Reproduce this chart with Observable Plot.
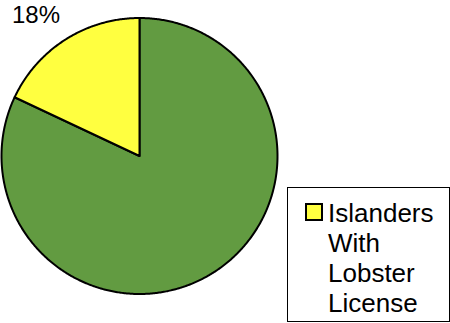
<!DOCTYPE html>
<html>
<head>
<meta charset="utf-8">
<script src="https://cdn.jsdelivr.net/npm/d3@7"></script>
<script src="https://cdn.jsdelivr.net/npm/@observablehq/plot@0.6"></script>
<style>
  html, body { margin: 0; padding: 0; background: #fff; }
  #wrap { position: relative; width: 450px; height: 323px; font-family: "Liberation Sans", Arial, sans-serif; }
  #legend { position: absolute; left: 287px; top: 187px; width: 161px; height: 133px; border: 1px solid #000; background: #fff; box-sizing: content-box; }
  #legend .sw { position: absolute; left: 17px; top: 15px; width: 14px; height: 14px; border: 2px solid #000; }
  #legend .txt { position: absolute; left: 40px; top: 10px; font-size: 26px; line-height: 30px; color: #000; }
</style>
</head>
<body>
<div id="wrap"></div>
<script>
const categories = ["Other", "Islanders With Lobster License"];
const values = [82, 18];
const colors = ["#629b41", "#ffff40"];
const labels = ["", "18%"];
const legendItems = ["Islanders With Lobster License"];

const arcs = d3.pie().sort(null).startAngle(0).endAngle(2 * Math.PI)(values);
const points = [];
arcs.forEach((a, i) => {
  points.push({key: categories[i], x: 0, y: 0});
  const n = Math.max(2, Math.ceil((a.endAngle - a.startAngle) / (Math.PI / 360)));
  for (let k = 0; k <= n; k++) {
    const t = a.startAngle + (a.endAngle - a.startAngle) * k / n;
    points.push({key: categories[i], x: Math.sin(t), y: Math.cos(t)});
  }
});
const labelData = arcs.map((a, i) => {
  const m = (a.startAngle + a.endAngle) / 2;
  return {text: labels[i], x: 1.21 * Math.sin(m), y: 1.21 * Math.cos(m)};
}).filter(d => d.text);

const chart = Plot.plot({
  width: 450,
  height: 323,
  margin: 0,
  x: {domain: [-1, 1], range: [1, 277], axis: null},
  y: {domain: [-1, 1], range: [293.5, 17.5], axis: null},
  color: {domain: categories, range: colors},
  style: {fontFamily: "Liberation Sans, Arial, sans-serif", background: "#fff"},
  marks: [
    Plot.line(points, {x: "x", y: "y", z: "key", fill: "key", stroke: "#000", strokeWidth: 2, curve: "linear-closed", strokeLinejoin: "round"}),
    Plot.text(labelData, {x: "x", y: "y", text: "text", fontSize: 24, fill: "#000", dx: -14, dy: 0})
  ]
});
const wrap = document.getElementById("wrap");
wrap.appendChild(chart);
const legend = document.createElement("div");
legend.id = "legend";
legendItems.forEach((name) => {
  const sw = document.createElement("div");
  sw.className = "sw";
  sw.style.background = colors[categories.indexOf(name)];
  legend.appendChild(sw);
  const tx = document.createElement("div");
  tx.className = "txt";
  tx.innerHTML = name.split(" ").join("<br>");
  legend.appendChild(tx);
});
wrap.appendChild(legend);
</script>
</body>
</html>
